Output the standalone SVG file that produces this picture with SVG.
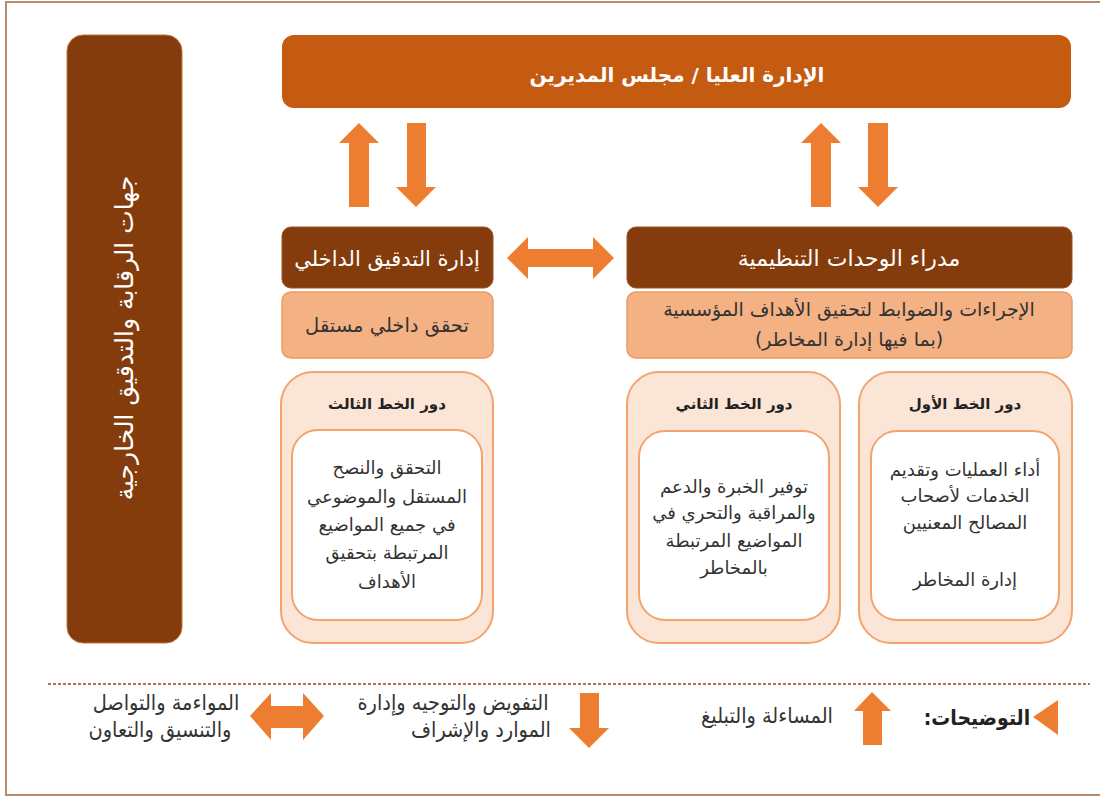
<svg xmlns="http://www.w3.org/2000/svg" width="1100" height="797" viewBox="0 0 1100 797">
<style>
.t{font-family:"DejaVu Sans",sans-serif;}
.c{font-family:"DejaVu Sans Condensed","DejaVu Sans",sans-serif;}
.w{fill:#ffffff;}
.d{fill:#333333;}
.dark{fill:#843c0c;stroke:#a0501c;stroke-width:1;}
.light{fill:#f4b183;stroke:#ed9a60;stroke-width:1.5;}
.outer{fill:#fbe5d6;stroke:#f3a46e;stroke-width:2;}
.inner{fill:#ffffff;stroke:#f3a46e;stroke-width:2;}
.arr{fill:#ed7d31;}
</style>
<rect x="6" y="2" width="1100" height="793" fill="#ffffff" stroke="#b98b6e" stroke-width="2"/>

<g id="external">
<rect x="67" y="35" width="115" height="608" rx="16" fill="#843c0c" stroke="#c5703a" stroke-width="1"/>
<text class="t w" transform="translate(125,338) rotate(-90)" y="8" font-size="25" text-anchor="middle" direction="rtl">جهات الرقابة والتدقيق الخارجية</text>
</g>

<g id="top">
<rect x="282" y="35" width="789" height="73" rx="12" fill="#c55a11"/>
<text class="t w" x="677" y="82" font-size="20" font-weight="bold" text-anchor="middle" direction="rtl">الإدارة العليا / مجلس المديرين</text>
</g>

<g id="audit">
<rect class="dark" x="282" y="227" width="211" height="61" rx="9"/>
<text class="t w" x="387" y="266" font-size="21" text-anchor="middle" direction="rtl">إدارة التدقيق الداخلي</text>
</g>
<g id="audit-desc">
<rect class="light" x="282" y="292" width="211" height="66" rx="9"/>
<text class="t d" x="387" y="332" font-size="19.5" text-anchor="middle" direction="rtl">تحقق داخلي مستقل</text>
</g>

<g id="managers">
<rect class="dark" x="627" y="227" width="445" height="61" rx="9"/>
<text class="t w" x="849" y="266" font-size="22" text-anchor="middle" direction="rtl">مدراء الوحدات التنظيمية</text>
</g>
<g id="managers-desc">
<rect class="light" x="627" y="292" width="445" height="66" rx="9"/>
<text class="t d" x="849" y="316" font-size="19" text-anchor="middle" direction="rtl">الإجراءات والضوابط لتحقيق الأهداف المؤسسية</text>
<text class="t d" x="849" y="346" font-size="19" text-anchor="middle" direction="rtl">(بما فيها إدارة المخاطر)</text>
</g>

<g id="line3">
<rect class="outer" x="281" y="372" width="212" height="271" rx="32"/>
<text class="t" x="387" y="409" font-size="15" font-weight="bold" fill="#222" text-anchor="middle" direction="rtl">دور الخط الثالث</text>
<rect class="inner" x="292" y="430" width="190" height="190" rx="26"/>
<g class="t d" font-size="18" text-anchor="middle" direction="rtl">
<text x="387" y="474">التحقق والنصح</text>
<text x="387" y="503">المستقل والموضوعي</text>
<text x="387" y="531">في جميع المواضيع</text>
<text x="387" y="559">المرتبطة بتحقيق</text>
<text x="387" y="588">الأهداف</text>
</g>
</g>

<g id="line2">
<rect class="outer" x="627" y="372" width="213" height="271" rx="32"/>
<text class="t" x="734" y="409" font-size="15" font-weight="bold" fill="#222" text-anchor="middle" direction="rtl">دور الخط الثاني</text>
<rect class="inner" x="639" y="431" width="190" height="189" rx="26"/>
<g class="t d" font-size="18" text-anchor="middle" direction="rtl">
<text x="734" y="493">توفير الخبرة والدعم</text>
<text x="734" y="519">والمراقبة والتحري في</text>
<text x="734" y="547">المواضيع المرتبطة</text>
<text x="734" y="574">بالمخاطر</text>
</g>
</g>

<g id="line1">
<rect class="outer" x="859" y="372" width="213" height="271" rx="32"/>
<text class="t" x="965" y="409" font-size="15" font-weight="bold" fill="#222" text-anchor="middle" direction="rtl">دور الخط الأول</text>
<rect class="inner" x="871" y="431" width="188" height="189" rx="26"/>
<g class="t d" font-size="18" text-anchor="middle" direction="rtl">
<text x="965" y="476">أداء العمليات وتقديم</text>
<text x="965" y="502">الخدمات لأصحاب</text>
<text x="965" y="529">المصالح المعنيين</text>
<text x="965" y="586">إدارة المخاطر</text>
</g>
</g>

<g id="connectors" class="arr">
<polygon points="359,123 379,143 369,143 369,207 349,207 349,143 339,143"/>
<polygon points="407,123 426,123 426,187 436,187 416,207 396,187 407,187"/>
<polygon points="821,123 841,143 831,143 831,207 811,207 811,143 801,143"/>
<polygon points="868,123 888,123 888,187 898,187 878,207 858,187 868,187"/>
<polygon points="507,258 528,237 528,249 593,249 593,237 614,258 593,279 593,267 528,267 528,279"/>
</g>

<g id="legend">
<line x1="48" y1="684" x2="1090" y2="684" stroke="#b9733f" stroke-width="2" stroke-dasharray="3,2"/>
<polygon class="arr" points="1033,717 1058,700 1058,735"/>
<text class="c" x="977" y="725" font-size="21" font-weight="bold" fill="#222" text-anchor="middle" direction="rtl">التوضيحات:</text>
<polygon class="arr" points="872,692 891,711 882,711 882,745 863,745 863,711 854,711"/>
<text class="c d" x="767" y="723" font-size="21.5" text-anchor="middle" direction="rtl">المساءلة والتبليغ</text>
<polygon class="arr" points="580,693 599,693 599,728 609,728 589,748 569,728 580,728"/>
<text class="c d" x="453" y="710" font-size="21.5" text-anchor="middle" direction="rtl">التفويض والتوجيه وإدارة</text>
<text class="c d" x="481" y="737" font-size="21.5" text-anchor="middle" direction="rtl">الموارد والإشراف</text>
<polygon class="arr" points="250,716 271,693 271,706 303,706 303,693 324,716 303,740 303,728 271,728 271,740"/>
<text class="c d" x="166" y="710" font-size="21.5" text-anchor="middle" direction="rtl">المواءمة والتواصل</text>
<text class="c d" x="160" y="737" font-size="21.5" text-anchor="middle" direction="rtl">والتنسيق والتعاون</text>
</g>
</svg>
